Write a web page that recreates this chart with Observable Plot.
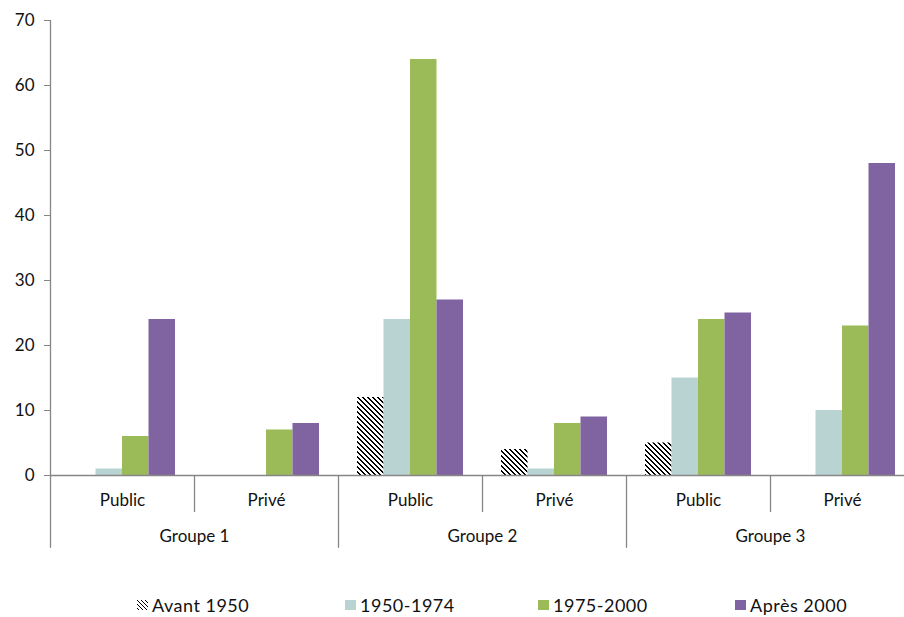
<!DOCTYPE html>
<html>
<head>
<meta charset="utf-8">
<script src="https://cdn.jsdelivr.net/npm/d3@7"></script>
<script src="https://cdn.jsdelivr.net/npm/@observablehq/plot@0.6"></script>
<style>
  html, body { margin: 0; padding: 0; background: #fff; }
  body { width: 904px; height: 617px; position: relative; overflow: hidden; font-family: Lato, "Open Sans", sans-serif; }
  #legend { position: absolute; left: 0; top: 594px; width: 904px; height: 22px; font-size: 18px; letter-spacing: 0.5px; color: #111; }
  .item { position: absolute; top: 0; height: 22px; display: flex; align-items: center; white-space: nowrap; }
  .sw { width: 11px; height: 10px; margin-right: 4px; display: inline-block; }
</style>
</head>
<body>
<div id="chart"></div>
<div id="legend"></div>
<script>
// ---- Data ----
const groups = ["Groupe 1", "Groupe 2", "Groupe 3"];
const sectors = ["Public", "Privé"];
const series = ["Avant 1950", "1950-1974", "1975-2000", "Après 2000"];
// values per subgroup: G1 Public, G1 Privé, G2 Public, G2 Privé, G3 Public, G3 Privé
const avant1950   = [0, 0, 12, 4, 5, 0];
const s1950_1974  = [1, 0, 24, 1, 15, 10];
const s1975_2000  = [6, 7, 64, 8, 24, 23];
const apres2000   = [24, 8, 27, 9, 25, 48];
const yTicks = [0, 10, 20, 30, 40, 50, 60, 70];

// ---- Styles ----
const colors = ["url(#hatch)", "#b8d3d2", "#9bbb59", "#8064a2"];
const axisColor = "#868686";
const textColor = "#111";

// ---- Build table ----
const seriesValues = [avant1950, s1950_1974, s1975_2000, apres2000];
const subgroups = [];
groups.forEach((g, gi) => sectors.forEach((s, si) => subgroups.push({group: g, sector: s, k: gi * sectors.length + si})));
const barW = 0.184;
const pad = (1 - series.length * barW) / 2;
const rows = [];
subgroups.forEach(sg => series.forEach((name, j) => {
  rows.push({k: sg.k, series: name, j, value: seriesValues[j][sg.k]});
}));
const nSub = subgroups.length;
const boundaries = d3.range(0, nSub + 1);

const svg = Plot.plot({
  width: 904,
  height: 580,
  marginTop: 20,
  marginBottom: 105,
  marginLeft: 50,
  marginRight: 0,
  x: {type: "linear", domain: [0, nSub], range: [50, 914], axis: null},
  y: {domain: [0, 70], range: [475, 20], axis: null},
  color: {type: "ordinal", domain: series, range: colors},
  style: {fontFamily: "Lato, 'Open Sans', sans-serif", fontSize: "17px", color: textColor, background: "#fff"},
  marks: [
    Plot.rectY(rows, {
      x1: d => d.k + pad + d.j * barW,
      x2: d => d.k + pad + (d.j + 1) * barW,
      y1: 0,
      y2: "value",
      fill: "series"
    }),
    Plot.axisY({ticks: yTicks, tickSize: 6, tickPadding: 10, stroke: axisColor, fill: textColor, label: null, fontSize: 17}),
    Plot.ruleX([0], {y1: 0, y2: 70, stroke: axisColor, strokeWidth: 1.3}),
    Plot.ruleY([0], {x1: 0, x2: nSub, stroke: axisColor, strokeWidth: 1.3}),
    Plot.ruleX(boundaries, {x: d => d, y1: 0, y2: d => (d % sectors.length === 0 ? -11.2 : -5.7), stroke: axisColor, strokeWidth: 1.3}),
    Plot.text(subgroups, {x: d => d.k + 0.5, y: 0, text: "sector", dy: 25, fill: textColor, fontSize: 17}),
    Plot.text(groups, {x: (d, i) => i * sectors.length + sectors.length / 2, y: 0, text: d => d, dy: 61, fill: textColor, fontSize: 17})
  ]
});

// hatch pattern built from crisp pixels (dark downward diagonal)
function addHatch(sel, id, size, thick) {
  const p = sel.append("pattern").attr("id", id).attr("patternUnits", "userSpaceOnUse")
    .attr("width", size).attr("height", size);
  p.append("rect").attr("width", size).attr("height", size).attr("fill", "#fff");
  for (let i = 0; i < size; i++) {
    for (let t = 0; t < thick; t++) {
      p.append("rect").attr("x", (i + t) % size).attr("y", i).attr("width", 1).attr("height", 1)
        .attr("fill", "#000").attr("shape-rendering", "crispEdges");
    }
  }
}
const defs = d3.select(svg).insert("defs", ":first-child");
addHatch(defs, "hatch", 5, 2);

document.getElementById("chart").appendChild(svg);

// ---- Legend ----
const legendLeft = [137, 345, 538, 735];
const legend = d3.select("#legend");
series.forEach((name, i) => {
  const item = legend.append("div").attr("class", "item").style("left", legendLeft[i] + "px");
  if (i === 0) {
    const s = item.append("svg").attr("width", 11).attr("height", 10).style("margin-right", "4px");
    addHatch(s.append("defs"), "hatchL", 4, 1);
    s.append("rect").attr("width", 11).attr("height", 10).attr("fill", "url(#hatchL)");
  } else {
    item.append("span").attr("class", "sw").style("background", colors[i]);
  }
  item.append("span").text(name);
});
</script>
</body>
</html>
